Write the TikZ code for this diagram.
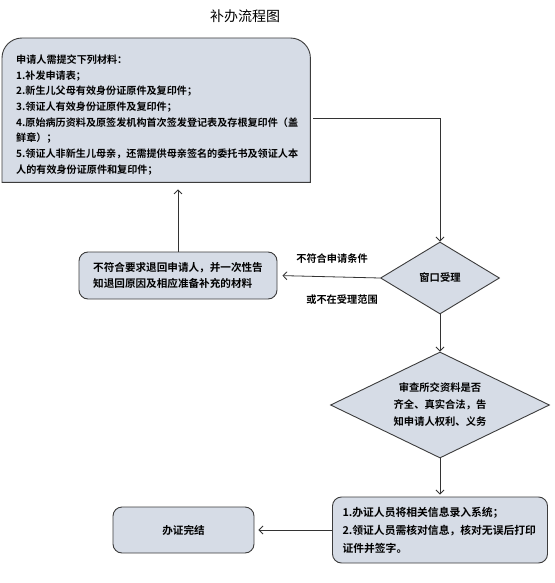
\documentclass[tikz,border=0pt]{standalone}
\usepackage{fontspec}
\setmainfont{Noto Sans CJK SC}[BoldFont={Noto Sans CJK SC Bold}]
\usetikzlibrary{shapes.geometric,arrows.meta,backgrounds}
\definecolor{boxfill}{RGB}{214,220,230}
\definecolor{boxline}{RGB}{60,60,60}
\begin{document}
\begin{tikzpicture}[x=1pt,y=-1pt,
  box/.style={draw=boxline,fill=boxfill,line width=0.9pt},
  rbox/.style={box,rounded corners=9pt,inner sep=0pt},
  dia/.style={box,diamond,inner sep=0pt,align=center},
  lbl/.style={font=\bfseries\fontsize{10.2}{12}\selectfont},
  conn/.style={line width=0.8pt,draw=black!80},
  arr/.style={conn,-{Straight Barb[length=4pt,width=8pt]}}]
\useasboundingbox (0,0) rectangle (554,583);

\node[font=\fontsize{14}{16}\selectfont] (title) at (245,16) {补办流程图};

\node[anchor=north west, minimum width=308pt, minimum height=144pt, inner xsep=14pt, inner ysep=0pt,
      align=left, text width=280pt, font=\bfseries\fontsize{10.1}{15.7}\selectfont] (req) at (2,38)
  {\rule{0pt}{18pt}申请人需提交下列材料：\\
   1.补发申请表；\\
   2.新生儿父母有效身份证原件及复印件；\\
   3.领证人有效身份证原件及复印件；\\
   4.原始病历资料及原签发机构首次签发登记表及存根复印件（盖\\
   鲜章）；\\
   5.领证人非新生儿母亲，还需提供母亲签名的委托书及领证人本\\
   人的有效身份证原件和复印件；};
\begin{pgfonlayer}{background}
\path[box] (req.south west) -- ([yshift=-20pt]req.north west)
  arc[start angle=180,end angle=90,radius=20pt]
  -- ([xshift=-20pt]req.north east)
  arc[start angle=90,end angle=0,radius=20pt]
  -- (req.south east) -- cycle;
\end{pgfonlayer}

\node[dia, minimum width=119pt, minimum height=72pt, font=\bfseries\fontsize{10.3}{12}\selectfont] (win) at (440,278) {窗口受理};

\coordinate (c1) at (440,118);
\draw[arr, shorten <=3pt] (req.east |- c1) -- (c1) -- (win.north);

\node[rbox, minimum width=198pt, minimum height=47pt, align=left,
      font=\bfseries\fontsize{10.6}{16}\selectfont] (ret) at (178,275.5)
  {不符合要求退回申请人，并一次性告\\知退回原因及相应准备补充的材料};

\draw[arr, shorten >=5pt] (win.west) -- (ret.east);
\node[lbl] (l1) at (332,259) {不符合申请条件};
\node[lbl] (l2) at (342,300) {或不在受理范围};

\draw[arr, shorten >=7pt] (ret.north) -- (ret.north |- req.south);

\node[dia, aspect=2, minimum width=219pt, minimum height=106pt,
      font=\bfseries\fontsize{10.3}{17}\selectfont] (chk) at (440,405)
  {审查所交资料是否\\齐全、真实合法，告\\知申请人权利、义务};
\draw[arr] (win.south) -- (chk.north);

\node[rbox, minimum width=215pt, minimum height=66pt, text width=195pt, align=left,
      font=\bfseries\fontsize{10.8}{18}\selectfont] (proc) at (440,530)
  {1.办证人员将相关信息录入系统；\\2.领证人员需核对信息，核对无误后打印\\证件并签字。};
\draw[arr, shorten >=2pt] (chk.south) -- (proc.north);

\node[rbox, minimum width=141pt, minimum height=46pt,
      font=\bfseries\fontsize{10.6}{12}\selectfont] (done) at (183.5,530) {办证完结};
\draw[arr, shorten >=4pt] (proc.west) -- (done.east);
\end{tikzpicture}
\end{document}
